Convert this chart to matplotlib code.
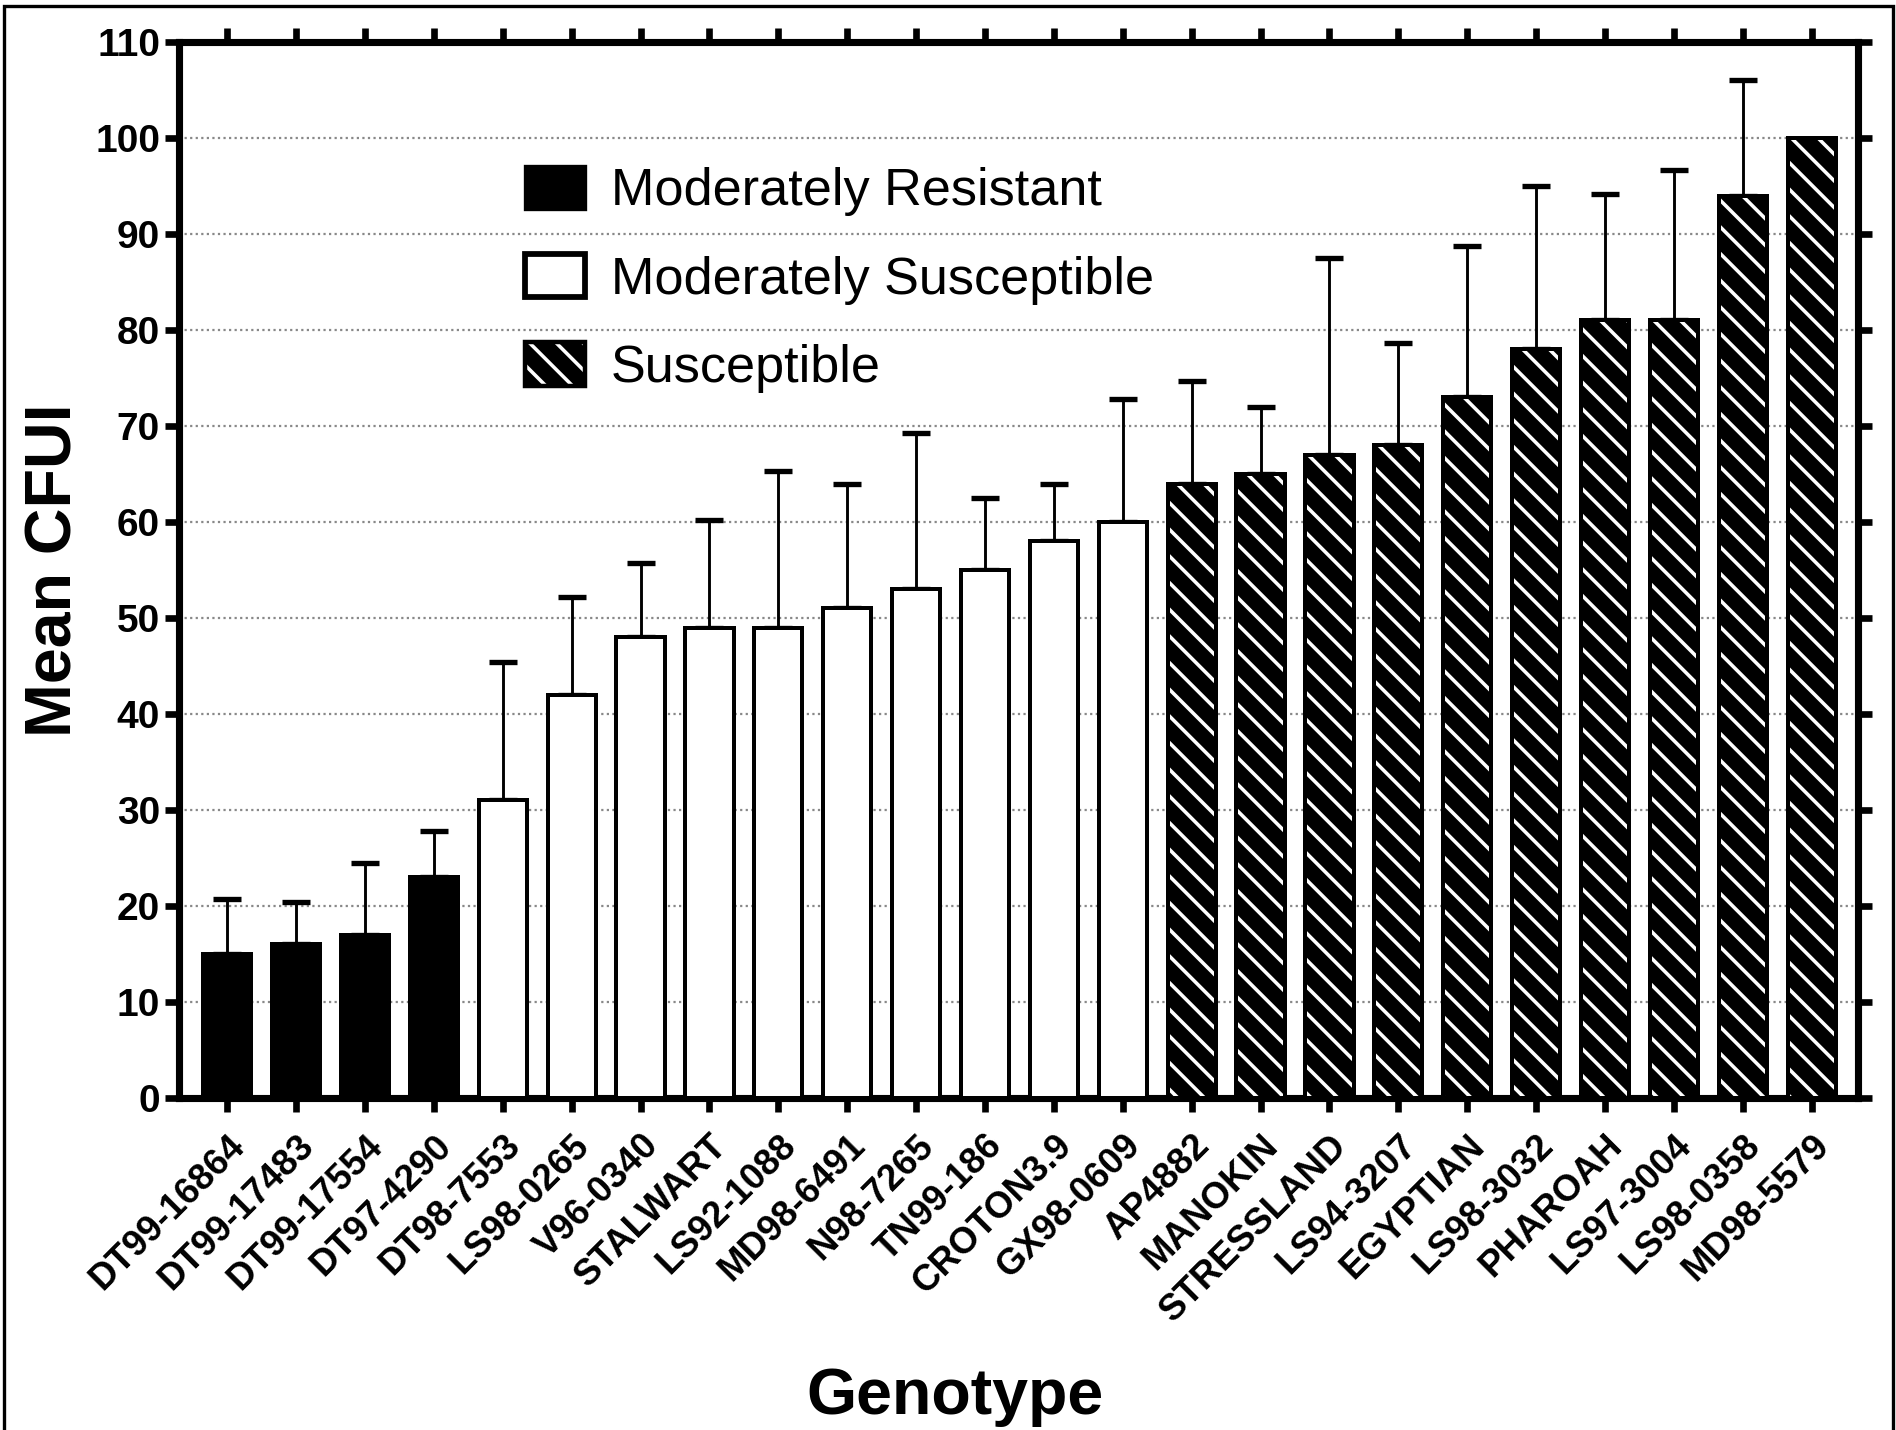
import matplotlib
matplotlib.use('Agg')
import matplotlib.pyplot as plt
from matplotlib.patches import Patch, Rectangle
from matplotlib.legend_handler import HandlerTuple
import numpy as np

# Data
genotypes = ['DT99-16864', 'DT99-17483', 'DT99-17554', 'DT97-4290', 'DT98-7553',
             'LS98-0265', 'V96-0340', 'STALWART', 'LS92-1088', 'MD98-6491',
             'N98-7265', 'TN99-186', 'CROTON3.9', 'GX98-0609', 'AP4882',
             'MANOKIN', 'STRESSLAND', 'LS94-3207', 'EGYPTIAN', 'LS98-3032',
             'PHAROAH', 'LS97-3004', 'LS98-0358', 'MD98-5579']
mean_cfui = [15, 16, 17, 23, 31, 42, 48, 49, 49, 51, 53, 55, 58, 60,
             64, 65, 67, 68, 73, 78, 81, 81, 94, 100]
err_up = [5.7, 4.4, 7.5, 4.8, 14.4, 10.2, 7.7, 11.2, 16.3, 13.0, 16.3, 7.5, 6.0, 12.8,
          10.7, 7.0, 20.5, 10.6, 15.8, 17.0, 13.2, 15.7, 12.0, 0]
groups = ['MR'] * 4 + ['MS'] * 10 + ['S'] * 10
group_names = {'MR': 'Moderately Resistant', 'MS': 'Moderately Susceptible', 'S': 'Susceptible'}

plt.rcParams['font.family'] = 'Liberation Sans'
plt.rcParams['hatch.linewidth'] = 1.6

fig = plt.figure(figsize=(1896 / 160, 1430 / 160), dpi=160)
ax = fig.add_axes([0.0944, 0.2322, 0.8855, 0.7384])

x = np.arange(len(genotypes))
w = 0.7
for i in range(len(genotypes)):
    g = groups[i]
    if g == 'MR':
        ax.bar(x[i], mean_cfui[i], w, color='black', edgecolor='black', linewidth=1.8, zorder=3)
    elif g == 'MS':
        ax.bar(x[i], mean_cfui[i], w, color='white', edgecolor='black', linewidth=1.8, zorder=3)
    else:
        ax.bar(x[i], mean_cfui[i], w, color='black', edgecolor='white', hatch='\\\\',
               linewidth=0, zorder=3)
        ax.bar(x[i], mean_cfui[i], w, fill=False, edgecolor='black', linewidth=1.8, zorder=4)

# one-sided error bars
idx = [i for i in range(len(genotypes)) if err_up[i] > 0]
ax.errorbar(x[idx], np.array(mean_cfui)[idx],
            yerr=[np.zeros(len(idx)), np.array(err_up)[idx]],
            fmt='none', ecolor='black', elinewidth=1.3, capsize=6.5, capthick=2.4, zorder=2)

ax.set_xlim(-0.7, 23.67)
ax.set_ylim(0, 110)
ax.set_yticks(np.arange(0, 111, 10))
ax.set_xticks(x)
ax.set_xticklabels(genotypes, rotation=45, ha='right', rotation_mode='anchor',
                   fontsize=16.5, fontweight='bold')
for lab in ax.get_yticklabels():
    lab.set_fontweight('bold')
    lab.set_fontsize(17.5)

ax.yaxis.grid(True, linestyle=(0, (1, 1.5)), color='#888888', linewidth=1.0)
ax.set_axisbelow(True)

for s in ax.spines.values():
    s.set_linewidth(3.2)
ax.tick_params(axis='both', direction='out', length=6.5, width=3.0, pad=2)
ax.tick_params(axis='x', top=True, pad=7)
ax.tick_params(axis='y', right=True)

ax.set_ylabel('Mean CFUI', fontsize=29, fontweight='bold', va='center', ha='center')
ax.yaxis.set_label_coords(-0.074, 0.5)
ax.set_xlabel('Genotype', fontsize=29, fontweight='bold', va='center', ha='center')
ax.xaxis.set_label_coords(0.462, -0.283)

# legend
h_mr = Patch(facecolor='black', edgecolor='black', linewidth=1.5)
h_ms = Patch(facecolor='white', edgecolor='black', linewidth=2.6)
h_s = (Patch(facecolor='black', edgecolor='white', hatch='\\\\', linewidth=0),
       Patch(fill=False, edgecolor='black', linewidth=2.0))
ax.legend([h_mr, h_ms, h_s], [group_names['MR'], group_names['MS'], group_names['S']],
          handler_map={tuple: HandlerTuple(ndivide=1, pad=0)},
          loc='upper left', bbox_to_anchor=(0.206, 0.883), frameon=False,
          fontsize=23.5, handlelength=1.15, handleheight=0.9, handletextpad=0.5,
          labelspacing=0.72, borderpad=0, borderaxespad=0)

# outer frame around the figure
fig.patches.append(Rectangle((0.002, -0.02), 0.9965, 1.0158, transform=fig.transFigure,
                             fill=False, edgecolor='black', linewidth=1.5))

fig.savefig('out.png', dpi=160)
